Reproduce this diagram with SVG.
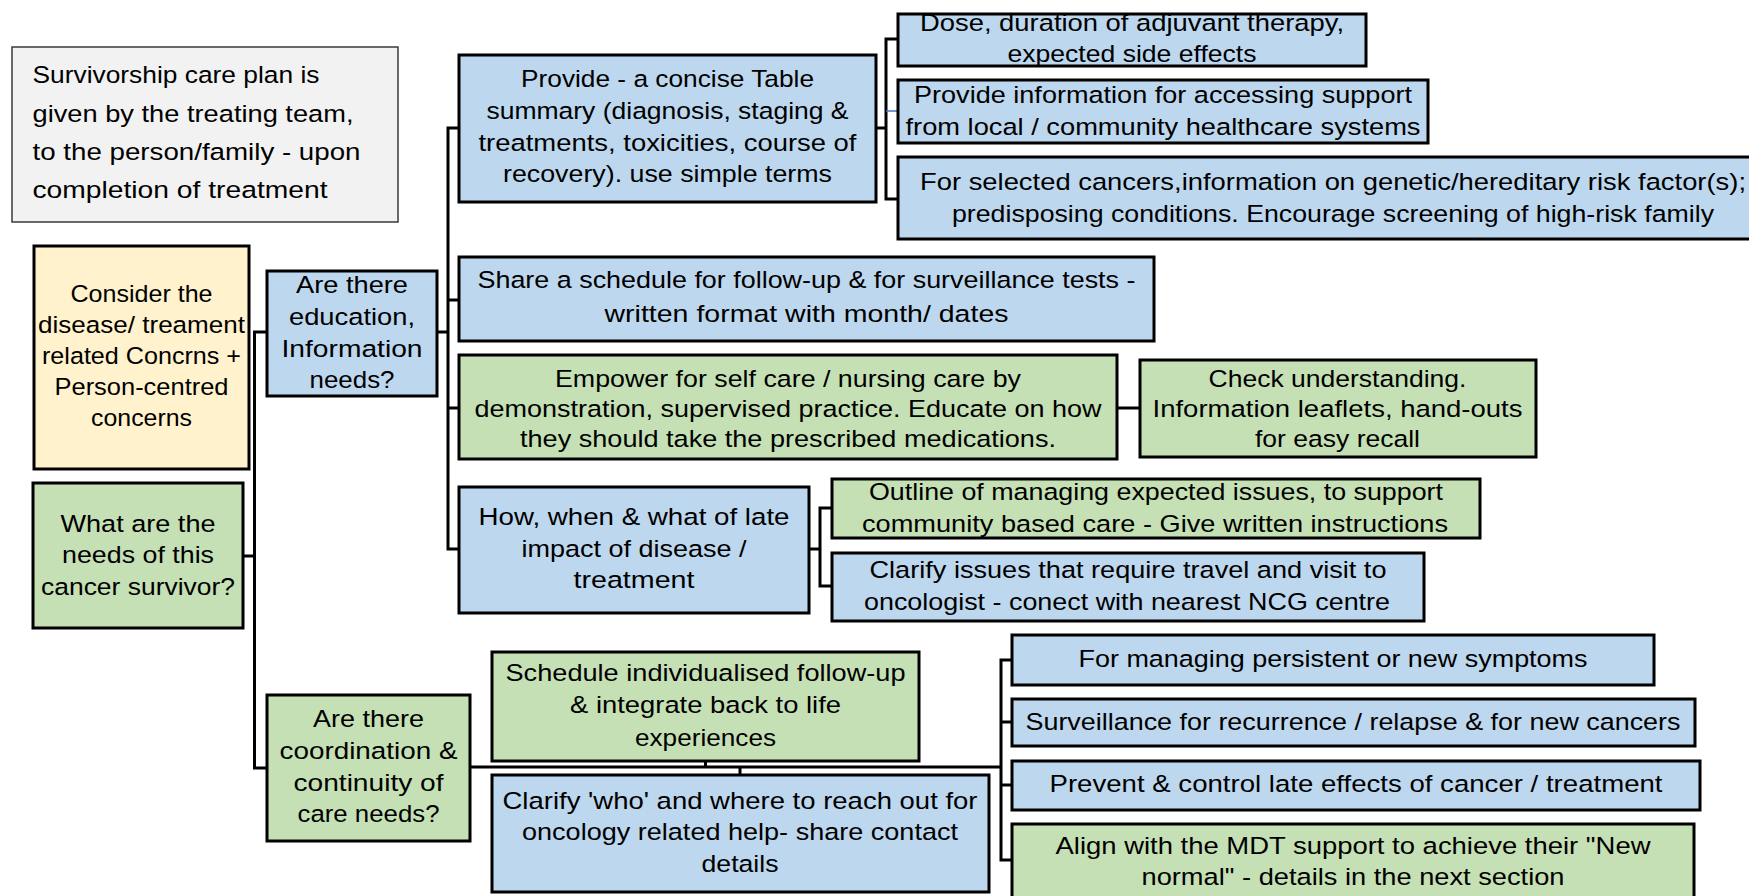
<svg xmlns="http://www.w3.org/2000/svg" width="1749" height="896" viewBox="0 0 1749 896">
<style>
  .t { font-family: "Liberation Sans", Arial, sans-serif; font-size: 24.5px; fill: #000; text-anchor: middle; }
  .l { text-anchor: start; }
  .box { stroke: #000; stroke-width: 3; }
  .blue { fill: #bdd7ee; }
  .green { fill: #c5e0b4; }
  .yellow { fill: #fff2cc; }
  .grey { fill: #f2f2f2; stroke: #3a3a3a; stroke-width: 1.5; }
  .conn path { fill: none; stroke: #000; stroke-width: 3; }
  .conn path.thin { stroke: #4472c4; stroke-width: 1.5; }
</style>
<rect width="1749" height="896" fill="#ffffff"/>

<g id="connectors" class="conn">
  <path d="M267,332 H254.5 V768 H267"/>
  <path d="M243,556 H254.5"/>
  <path d="M437,332 H448"/>
  <path d="M459,128 H448 V549 H459"/>
  <path d="M448,300 H459"/>
  <path d="M448,408 H459"/>
  <path d="M876,128 H886"/>
  <path d="M898,39 H886 V199 H898"/>
  <path class="thin" d="M886,111 H898"/>
  <path d="M1117,408 H1140"/>
  <path d="M809,549 H820"/>
  <path d="M832,508 H820 V586 H832"/>
  <path d="M470,767 H1001"/>
  <path d="M705.5,761 V767"/>
  <path d="M740,767 V775"/>
  <path d="M1012,660 H1001 V860 H1012"/>
  <path d="M1001,722 H1012"/>
  <path d="M1001,785 H1012"/>
</g>

<g id="plan">
  <rect class="grey" x="12" y="47" width="386" height="175"/>
  <text class="t l" x="32.5" y="83" textLength="287" lengthAdjust="spacingAndGlyphs">Survivorship care plan is</text>
  <text class="t l" x="32.5" y="122" textLength="321" lengthAdjust="spacingAndGlyphs">given by the treating team,</text>
  <text class="t l" x="32.5" y="160" textLength="328" lengthAdjust="spacingAndGlyphs">to the person/family - upon</text>
  <text class="t l" x="32.5" y="198" textLength="295" lengthAdjust="spacingAndGlyphs">completion of treatment</text>
</g>

<g id="consider">
  <rect class="box yellow" x="34" y="246" width="215" height="223"/>
  <text class="t" x="141.5" y="302" textLength="142" lengthAdjust="spacingAndGlyphs">Consider the</text>
  <text class="t" x="141.5" y="333" textLength="207" lengthAdjust="spacingAndGlyphs">disease/ treament</text>
  <text class="t" x="141.5" y="364" textLength="199" lengthAdjust="spacingAndGlyphs">related Concrns +</text>
  <text class="t" x="141.5" y="395" textLength="174" lengthAdjust="spacingAndGlyphs">Person-centred</text>
  <text class="t" x="141.5" y="426" textLength="101" lengthAdjust="spacingAndGlyphs">concerns</text>
</g>

<g id="education">
  <rect class="box blue" x="267" y="271" width="170" height="125"/>
  <text class="t" x="352" y="293" textLength="112" lengthAdjust="spacingAndGlyphs">Are there</text>
  <text class="t" x="352" y="325" textLength="126" lengthAdjust="spacingAndGlyphs">education,</text>
  <text class="t" x="352" y="357" textLength="141" lengthAdjust="spacingAndGlyphs">Information</text>
  <text class="t" x="352" y="388" textLength="85" lengthAdjust="spacingAndGlyphs">needs?</text>
</g>

<g id="needs">
  <rect class="box green" x="33" y="483" width="210" height="145"/>
  <text class="t" x="138" y="532" textLength="155" lengthAdjust="spacingAndGlyphs">What are the</text>
  <text class="t" x="138" y="563" textLength="152" lengthAdjust="spacingAndGlyphs">needs of this</text>
  <text class="t" x="138" y="595" textLength="194" lengthAdjust="spacingAndGlyphs">cancer survivor?</text>
</g>

<g id="coordination">
  <rect class="box green" x="267" y="695" width="203" height="146"/>
  <text class="t" x="368.5" y="727" textLength="111" lengthAdjust="spacingAndGlyphs">Are there</text>
  <text class="t" x="368.5" y="759" textLength="178" lengthAdjust="spacingAndGlyphs">coordination &amp;</text>
  <text class="t" x="368.5" y="791" textLength="150" lengthAdjust="spacingAndGlyphs">continuity of</text>
  <text class="t" x="368.5" y="822" textLength="142" lengthAdjust="spacingAndGlyphs">care needs?</text>
</g>

<g id="provide">
  <rect class="box blue" x="459" y="55" width="417" height="147"/>
  <text class="t" x="667.5" y="87" textLength="293" lengthAdjust="spacingAndGlyphs">Provide - a concise Table</text>
  <text class="t" x="667.5" y="119" textLength="362" lengthAdjust="spacingAndGlyphs">summary (diagnosis, staging &amp;</text>
  <text class="t" x="667.5" y="151" textLength="378" lengthAdjust="spacingAndGlyphs">treatments, toxicities, course of</text>
  <text class="t" x="667.5" y="182" textLength="329" lengthAdjust="spacingAndGlyphs">recovery). use simple terms</text>
</g>

<g id="dose">
  <rect class="blue" x="898" y="14" width="468" height="52"/>
  <text class="t" x="1132" y="31" textLength="424" lengthAdjust="spacingAndGlyphs">Dose, duration of adjuvant therapy,</text>
  <text class="t" x="1132" y="62" textLength="249" lengthAdjust="spacingAndGlyphs">expected side effects</text>
  <rect class="box" fill="none" x="898" y="14" width="468" height="52"/>
</g>

<g id="provideinfo">
  <rect class="box blue" x="898" y="80" width="530" height="63"/>
  <text class="t" x="1163" y="103" textLength="498" lengthAdjust="spacingAndGlyphs">Provide information for accessing support</text>
  <text class="t" x="1163" y="135" textLength="515" lengthAdjust="spacingAndGlyphs">from local / community healthcare systems</text>
</g>

<g id="selected">
  <rect class="box blue" x="898" y="157" width="870" height="82"/>
  <text class="t" x="1333" y="190" textLength="826" lengthAdjust="spacingAndGlyphs">For selected cancers,information on  genetic/hereditary risk factor(s);</text>
  <text class="t" x="1333" y="222" textLength="762" lengthAdjust="spacingAndGlyphs">predisposing conditions. Encourage screening of high-risk family</text>
</g>

<g id="share">
  <rect class="box blue" x="459" y="257" width="695" height="84"/>
  <text class="t" x="806.5" y="288" textLength="658" lengthAdjust="spacingAndGlyphs">Share a schedule for follow-up &amp; for surveillance tests -</text>
  <text class="t" x="806.5" y="322" textLength="404" lengthAdjust="spacingAndGlyphs">written format with month/ dates</text>
</g>

<g id="empower">
  <rect class="box green" x="459" y="355" width="658" height="104"/>
  <text class="t" x="788" y="387" textLength="466" lengthAdjust="spacingAndGlyphs">Empower for self care / nursing care by</text>
  <text class="t" x="788" y="417" textLength="627" lengthAdjust="spacingAndGlyphs">demonstration, supervised practice. Educate on how</text>
  <text class="t" x="788" y="447" textLength="536" lengthAdjust="spacingAndGlyphs">they should take the prescribed medications.</text>
</g>

<g id="check">
  <rect class="box green" x="1140" y="360" width="396" height="97"/>
  <text class="t" x="1337.5" y="387" textLength="258" lengthAdjust="spacingAndGlyphs">Check understanding.</text>
  <text class="t" x="1337.5" y="417" textLength="370" lengthAdjust="spacingAndGlyphs">Information leaflets, hand-outs</text>
  <text class="t" x="1337.5" y="447" textLength="165" lengthAdjust="spacingAndGlyphs">for easy recall</text>
</g>

<g id="how">
  <rect class="box blue" x="459" y="487" width="350" height="126"/>
  <text class="t" x="634" y="525" textLength="311" lengthAdjust="spacingAndGlyphs">How, when &amp; what of late</text>
  <text class="t" x="634" y="557" textLength="225" lengthAdjust="spacingAndGlyphs">impact of disease /</text>
  <text class="t" x="634" y="588" textLength="121" lengthAdjust="spacingAndGlyphs">treatment</text>
</g>

<g id="outline">
  <rect class="green" x="832" y="479" width="648" height="59"/>
  <text class="t" x="1156" y="500" textLength="574" lengthAdjust="spacingAndGlyphs">Outline of managing expected issues, to support</text>
  <text class="t" x="1155" y="532" textLength="586" lengthAdjust="spacingAndGlyphs">community based care - Give written instructions</text>
  <rect class="box" fill="none" x="832" y="479" width="648" height="59"/>
</g>

<g id="clarifyissues">
  <rect class="box blue" x="832" y="553" width="592" height="68"/>
  <text class="t" x="1128" y="578" textLength="517" lengthAdjust="spacingAndGlyphs">Clarify issues that require travel and visit to</text>
  <text class="t" x="1127" y="610" textLength="526" lengthAdjust="spacingAndGlyphs">oncologist - conect with nearest NCG centre</text>
</g>

<g id="schedule">
  <rect class="box green" x="492" y="652" width="427" height="109"/>
  <text class="t" x="705.5" y="681" textLength="400" lengthAdjust="spacingAndGlyphs">Schedule individualised follow-up</text>
  <text class="t" x="705.5" y="713" textLength="271" lengthAdjust="spacingAndGlyphs">&amp; integrate back to life</text>
  <text class="t" x="705.5" y="746" textLength="141" lengthAdjust="spacingAndGlyphs">experiences</text>
</g>

<g id="clarifywho">
  <rect class="box blue" x="492" y="775" width="497" height="117"/>
  <text class="t" x="740" y="809" textLength="475" lengthAdjust="spacingAndGlyphs">Clarify 'who' and where to reach out for</text>
  <text class="t" x="740" y="840" textLength="436" lengthAdjust="spacingAndGlyphs">oncology related help- share contact</text>
  <text class="t" x="740" y="872" textLength="77" lengthAdjust="spacingAndGlyphs">details</text>
</g>

<g id="managing">
  <rect class="box blue" x="1012" y="635" width="642" height="50"/>
  <text class="t" x="1333" y="667" textLength="509" lengthAdjust="spacingAndGlyphs">For managing persistent or new symptoms</text>
</g>

<g id="surveillance">
  <rect class="box blue" x="1012" y="699" width="683" height="47"/>
  <text class="t" x="1353" y="730" textLength="655" lengthAdjust="spacingAndGlyphs">Surveillance for recurrence / relapse &amp; for new cancers</text>
</g>

<g id="prevent">
  <rect class="box blue" x="1012" y="761" width="688" height="49"/>
  <text class="t" x="1356" y="792" textLength="613" lengthAdjust="spacingAndGlyphs">Prevent &amp; control late effects of cancer / treatment</text>
</g>

<g id="align">
  <rect class="box green" x="1012" y="824" width="682" height="90"/>
  <text class="t" x="1353" y="854" textLength="595" lengthAdjust="spacingAndGlyphs">Align with the MDT support to achieve their "New</text>
  <text class="t" x="1353" y="885" textLength="423" lengthAdjust="spacingAndGlyphs">normal" - details in the next section</text>
</g>
</svg>
